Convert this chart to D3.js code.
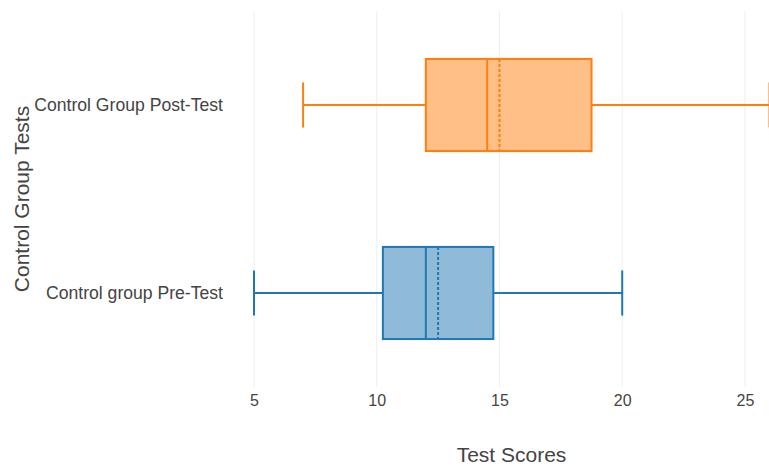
<html>
<head>
    <style>
        body, html { margin: 0; padding: 0; background: #fff; font-family: "Liberation Sans", Arial, sans-serif; }
        text { font-family: "Liberation Sans", Arial, sans-serif; }
    </style>
    <script src="https://cdn.jsdelivr.net/npm/d3@7"></script>
</head>
<body>
<div id="container"></div>
<script>
    const width = 769, height = 468;

    // data
    const groups = ["Control group Pre-Test", "Control Group Post-Test"];
    const mins = [5, 7];
    const q1s = [10.25, 12];
    const medians = [12, 14.5];
    const means = [12.5, 15];
    const q3s = [14.75, 18.75];
    const maxs = [20, 26];
    const colors = ["#1f77b4", "#ff7f0e"];
    const xTicks = [5, 10, 15, 20, 25];

    const boxes = groups.map((g, i) => ({
        name: g, min: mins[i], q1: q1s[i], median: medians[i],
        mean: means[i], q3: q3s[i], max: maxs[i], color: colors[i]
    }));

    const margin = { top: 11, right: 0, bottom: 81, left: 254 };

    const x = d3.scaleLinear()
        .domain([5, 26])
        .range([margin.left, 769.5]);

    // pre-test at the bottom, post-test on top
    const y = d3.scaleBand()
        .domain(groups.slice().reverse())
        .range([margin.top, height - margin.bottom]);

    const boxH = y.bandwidth() * 0.49;
    const capH = boxH * 0.49;

    const svg = d3.select("#container").append("svg")
        .attr("width", width)
        .attr("height", height);

    // vertical gridlines
    svg.append("g")
        .selectAll("line")
        .data(xTicks)
        .join("line")
        .attr("x1", d => x(d)).attr("x2", d => x(d))
        .attr("y1", margin.top).attr("y2", height - margin.bottom)
        .attr("stroke", "#eee")
        .attr("stroke-width", 1);

    // x axis labels
    const xAxis = svg.append("g")
        .attr("transform", `translate(0,${height - margin.bottom})`)
        .call(d3.axisBottom(x).tickValues(xTicks).tickSize(0).tickPadding(8));
    xAxis.select(".domain").remove();
    xAxis.selectAll("text")
        .attr("fill", "#444")
        .attr("dy", "0.71em")
        .style("font-size", "16px");

    // y axis labels
    const yAxis = svg.append("g")
        .attr("transform", `translate(${margin.left - 31},0)`)
        .call(d3.axisLeft(y).tickSize(0).tickPadding(0));
    yAxis.select(".domain").remove();
    yAxis.selectAll("text")
        .attr("fill", "#444")
        .style("font-size", "17.6px");

    // axis titles
    svg.append("text")
        .attr("x", (margin.left + width) / 2)
        .attr("y", 462)
        .attr("text-anchor", "middle")
        .attr("fill", "#444")
        .style("font-size", "21px")
        .text("Test Scores");

    svg.append("text")
        .attr("transform", `translate(22,${(margin.top + height - margin.bottom) / 2}) rotate(-90)`)
        .attr("text-anchor", "middle")
        .attr("dy", "0.35em")
        .attr("fill", "#444")
        .style("font-size", "21px")
        .text("Control Group Tests");

    // boxes
    const box = svg.append("g")
        .selectAll("g")
        .data(boxes)
        .join("g")
        .attr("transform", d => `translate(0,${y(d.name) + y.bandwidth() / 2})`)
        .attr("stroke", d => d.color)
        .attr("stroke-width", 2);

    // whiskers
    box.append("line")
        .attr("x1", d => x(d.min)).attr("x2", d => x(d.q1))
        .attr("y1", 0).attr("y2", 0);
    box.append("line")
        .attr("x1", d => x(d.q3)).attr("x2", d => x(d.max))
        .attr("y1", 0).attr("y2", 0);
    box.append("line")
        .attr("x1", d => x(d.min)).attr("x2", d => x(d.min))
        .attr("y1", -capH / 2).attr("y2", capH / 2);
    box.append("line")
        .attr("x1", d => x(d.max)).attr("x2", d => x(d.max))
        .attr("y1", -capH / 2).attr("y2", capH / 2);

    box.append("rect")
        .attr("x", d => x(d.q1))
        .attr("width", d => x(d.q3) - x(d.q1))
        .attr("y", -boxH / 2)
        .attr("height", boxH)
        .attr("fill", d => d.color)
        .attr("fill-opacity", 0.5);

    // median
    box.append("line")
        .attr("x1", d => x(d.median)).attr("x2", d => x(d.median))
        .attr("y1", -boxH / 2).attr("y2", boxH / 2);

    // mean (dashed)
    box.append("line")
        .attr("x1", d => x(d.mean)).attr("x2", d => x(d.mean))
        .attr("y1", -boxH / 2).attr("y2", boxH / 2)
        .attr("stroke-dasharray", "3,2");
</script>
</body>
</html>
